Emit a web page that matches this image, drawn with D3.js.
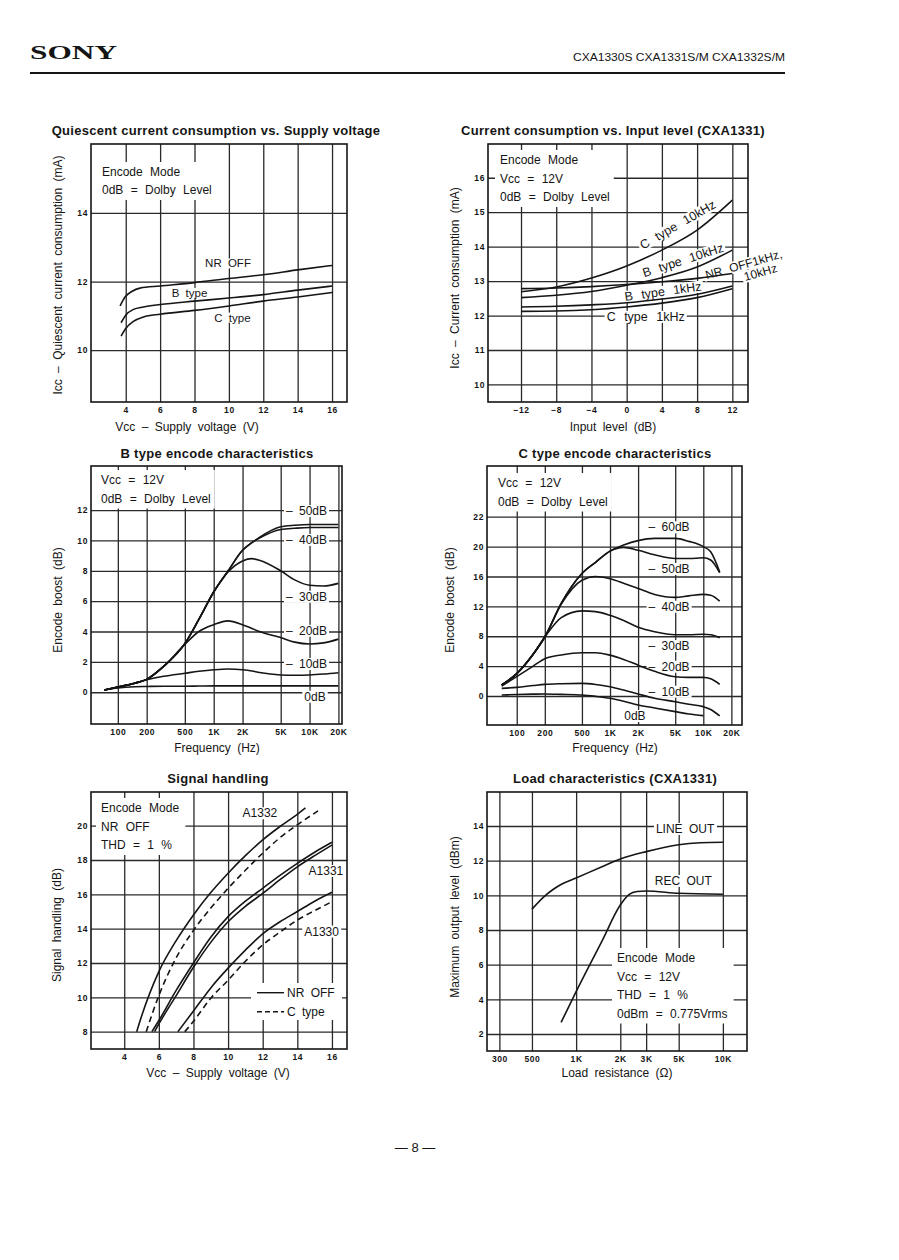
<!DOCTYPE html>
<html>
<head>
<meta charset="utf-8">
<title>CXA1330S CXA1331S/M CXA1332S/M</title>
<script src="https://cdn.jsdelivr.net/npm/d3@7/dist/d3.min.js"></script>
<style>
  body { margin: 0; background: #fff; }
  svg text { font-family: "Liberation Sans", Arial, Helvetica, sans-serif; fill: #151515; }
</style>
</head>
<body>
<script>
// ---------- data ----------

// Quiescent current consumption vs. supply voltage
const voltTicks = [4, 6, 8, 10, 12, 14, 16];
const qcTicks = [10, 12, 14];
const qNrOffV = [3.67, 3.96, 4.35, 4.83, 6, 8, 10, 12, 14, 16];
const qNrOff = [11.29, 11.55, 11.71, 11.81, 11.87, 11.97, 12.09, 12.2, 12.34, 12.47];
const qTypeV = [3.73, 4, 4.45, 5.03, 6, 8, 10, 12, 14, 16];
const qBType = [10.8, 11.02, 11.19, 11.26, 11.33, 11.43, 11.52, 11.62, 11.75, 11.87];
const qCType = [10.41, 10.63, 10.84, 10.97, 11.05, 11.16, 11.29, 11.43, 11.55, 11.68];

// Current consumption vs. input level (CXA1331)
const levelTicks = [-12, -8, -4, 0, 4, 8, 12];
const levelLabels = ["\u221212", "\u22128", "\u22124", "0", "4", "8", "12"];
const icTicks = [10, 11, 12, 13, 14, 15, 16];
const inLevel = [-12, -8, -4, 0, 4, 8, 12];
const iC10k = [12.69, 12.83, 13.09, 13.44, 13.9, 14.48, 15.35];
const iB10k = [12.52, 12.59, 12.7, 12.88, 13.1, 13.41, 13.9];
const iNrOff = [12.78, 12.8, 12.84, 12.9, 12.98, 13.08, 13.22];
const iB1k = [12.25, 12.27, 12.31, 12.37, 12.48, 12.62, 12.86];
const iC1k = [12.12, 12.13, 12.17, 12.25, 12.36, 12.52, 12.78];

// Encode characteristics, frequency axes
const freqTicks = [100, 200, 500, 1000, 2000, 5000, 10000, 20000];
const freqLabels = ["100", "200", "500", "1K", "2K", "5K", "10K", "20K"];

// B type encode characteristics
const bBoostTicks = [0, 2, 4, 6, 8, 10, 12];
const bFreq = [72, 100, 150, 200, 300, 500, 700, 1000, 1400, 2000, 2500, 3000, 5000, 7000, 10000, 14000, 20000];
const b50 = [0.15, 0.35, 0.6, 0.85, 1.7, 3.2, 4.8, 6.6, 7.95, 9.35, 9.85, 10.2, 10.9, 11.0, 11.05, 11.05, 11.05];
const b40 = [0.15, 0.35, 0.6, 0.85, 1.7, 3.2, 4.8, 6.6, 7.95, 9.35, 9.85, 10.15, 10.72, 10.8, 10.85, 10.85, 10.85];
const b30 = [0.15, 0.35, 0.6, 0.85, 1.7, 3.2, 4.8, 6.6, 7.9, 8.65, 8.8, 8.7, 8.0, 7.4, 7.05, 7.0, 7.17];
const b20 = [0.15, 0.35, 0.6, 0.85, 1.7, 3.15, 4.0, 4.45, 4.7, 4.45, 4.2, 4.0, 3.6, 3.3, 3.18, 3.25, 3.5];
const b10 = [0.15, 0.33, 0.6, 0.82, 1.05, 1.25, 1.38, 1.48, 1.53, 1.48, 1.4, 1.3, 1.14, 1.12, 1.14, 1.2, 1.29];
const b0 = [0.15, 0.28, 0.36, 0.38, 0.4, 0.4, 0.41, 0.42, 0.42, 0.42, 0.42, 0.42, 0.42, 0.42, 0.42, 0.42, 0.42];

// C type encode characteristics (the top grid line is printed as "22")
const cBoostTicks = [0, 4, 8, 12, 16, 20, 24];
const cBoostLabels = ["0", "4", "8", "12", "16", "20", "22"];
const cFreq = [69, 100, 150, 200, 300, 500, 700, 1000, 1400, 2000, 3000, 5000, 7000, 10000, 12000, 15000];
const c60 = [1.47, 3.0, 5.6, 7.9, 12.4, 16.4, 17.9, 19.4, 20.2, 20.8, 21.1, 21.1, 20.7, 20.0, 19.3, 16.6];
const c50 = [1.47, 3.0, 5.6, 7.9, 12.4, 16.4, 17.9, 19.4, 19.9, 19.5, 18.9, 18.4, 18.4, 18.5, 18.2, 16.5];
const c40 = [1.47, 3.0, 5.6, 7.9, 12.3, 15.5, 16.0, 15.7, 15.1, 14.4, 13.6, 13.2, 13.4, 13.6, 13.5, 12.7];
const c30 = [1.47, 3.0, 5.6, 7.9, 10.5, 11.4, 11.3, 10.8, 10.1, 9.2, 8.6, 8.2, 8.2, 8.27, 8.2, 7.8];
const c20 = [1.33, 2.6, 4.0, 5.0, 5.5, 5.8, 5.8, 5.47, 4.9, 4.13, 3.3, 2.58, 2.5, 2.49, 2.3, 1.56];
const c10 = [1.02, 1.16, 1.4, 1.56, 1.65, 1.69, 1.55, 1.24, 0.8, 0.27, -0.3, -0.76, -1.1, -1.42, -1.8, -2.67];
const c0 = [0.13, 0.2, 0.25, 0.27, 0.22, 0.13, -0.05, -0.31, -0.7, -1.2, -1.6, -2.09, -2.4, -2.62, null, null];

// Signal handling
const shTicks = [8, 10, 12, 14, 16, 18, 20];
const sh1332NrV = [4.72, 5, 6, 7, 8, 9, 10, 11, 12, 13, 14, 14.47];
const sh1332Nr = [8, 8.9, 11.5, 13.3, 14.8, 16.1, 17.23, 18.25, 19.17, 19.95, 20.66, 21.03];
const sh1332CV = [5.27, 6, 7, 8, 9, 10, 11, 12, 13, 14, 15.2];
const sh1332C = [8, 10.1, 12.3, 13.9, 15.2, 16.35, 17.4, 18.4, 19.3, 20.05, 20.86];
const sh1331NrV = [5.6, 6, 7, 8, 9, 10, 11, 12, 13, 14, 15, 16];
const sh1331Nr = [8, 8.65, 10.4, 12.0, 13.5, 14.7, 15.6, 16.35, 17.1, 17.8, 18.45, 19.03];
const sh1331CV = [5.75, 6, 7, 8, 9, 10, 11, 12, 13, 14, 15, 16];
const sh1331C = [8, 8.45, 10.1, 11.75, 13.2, 14.4, 15.3, 16.05, 16.85, 17.6, 18.25, 18.87];
const sh1330NrV = [7.1, 8, 9, 10, 11, 12, 13, 14, 15, 16];
const sh1330Nr = [8, 9.2, 10.55, 11.7, 12.75, 13.7, 14.4, 15.0, 15.6, 16.12];
const sh1330CV = [7.5, 8, 9, 10, 11, 12, 13, 14, 15, 16];
const sh1330C = [8, 8.6, 9.95, 11.0, 12.1, 13.05, 13.8, 14.5, 15.05, 15.57];

// Load characteristics (CXA1331)
const loadTicks = [300, 500, 1000, 2000, 3000, 5000, 10000];
const loadLabels = ["300", "500", "1K", "2K", "3K", "5K", "10K"];
const outTicks = [2, 4, 6, 8, 10, 12, 14];
const lineR = [500, 600, 700, 800, 1000, 1500, 2000, 3000, 5000, 7000, 10000];
const lineOut = [9.2, 9.9, 10.35, 10.65, 11.0, 11.65, 12.1, 12.52, 12.92, 13.03, 13.06];
const recR = [790, 1000, 1500, 2000, 2300, 2600, 3000, 5000, 10000];
const recOut = [2.67, 4.44, 7.36, 9.44, 10.05, 10.22, 10.25, 10.12, 10.06];

// ---------- drawing ----------
const svg = d3.select("body").append("svg")
  .attr("width", 899).attr("height", 1260)
  .style("background", "#fff");

const INK = "#151515";

// a framed grid with tick labels and titles; returns scales and layers
function panel(p) {
  const x = (p.log ? d3.scaleLog() : d3.scaleLinear()).domain(p.xDomain).range([p.x0, p.x1]);
  const y = d3.scaleLinear().domain(p.yDomain).range([p.y1, p.y0]);
  const g = svg.append("g");
  const L = {
    grid: g.append("g"), frame: g.append("g"), box: g.append("g"),
    curve: g.append("g"), text: g.append("g")
  };
  const xl = p.xLabels || p.xTicks.map(String);
  const yl = p.yLabels || p.yTicks.map(String);

  L.grid.append("g").attr("transform", `translate(0,${p.y1})`)
    .call(d3.axisBottom(x).tickValues(p.xTicks)
      .tickFormat(d => xl[p.xTicks.indexOf(d)])
      .tickSize(-(p.y1 - p.y0)).tickPadding(5));
  L.grid.append("g").attr("transform", `translate(${p.x0},0)`)
    .call(d3.axisLeft(y).tickValues(p.yTicks)
      .tickFormat(d => yl[p.yTicks.indexOf(d)])
      .tickSize(-(p.x1 - p.x0)).tickPadding(3));
  L.grid.selectAll(".domain").remove();
  L.grid.selectAll(".tick line").attr("stroke", "#2a2a2a").attr("stroke-width", 1.3);
  L.grid.selectAll(".tick text")
    .attr("font-size", 8.5).attr("font-weight", "bold")
    .attr("letter-spacing", 0.6).attr("fill", INK)
    .style("font-family", '"Liberation Sans", Arial, sans-serif');

  L.frame.append("rect")
    .attr("x", p.x0).attr("y", p.y0)
    .attr("width", p.x1 - p.x0).attr("height", p.y1 - p.y0)
    .attr("fill", "none").attr("stroke", INK).attr("stroke-width", 1.6);

  L.text.append("text").attr("x", p.titleX).attr("y", p.titleY)
    .attr("text-anchor", "middle").attr("dominant-baseline", "central")
    .attr("font-size", 13).attr("letter-spacing", 0.3)
    .attr("font-weight", "bold").text(p.title);
  L.text.append("text").attr("x", p.xTitleX).attr("y", p.xTitleY)
    .attr("text-anchor", "middle").attr("dominant-baseline", "central")
    .attr("font-size", 12).attr("word-spacing", 3).text(p.xTitle);
  L.text.append("text")
    .attr("transform", `translate(${p.yTitleX},${p.yTitleY}) rotate(-90)`)
    .attr("text-anchor", "middle").attr("dominant-baseline", "central")
    .attr("font-size", 12).attr("word-spacing", 3).text(p.yTitle);

  return { x, y, L };
}

function curve(P, xs, ys, dash) {
  const pts = xs.map((v, i) => [v, ys[i]]);
  const line = d3.line()
    .defined(d => d[1] != null)
    .x(d => P.x(d[0])).y(d => P.y(d[1]))
    .curve(d3.curveMonotoneX);
  P.L.curve.append("path").attr("d", line(pts))
    .attr("fill", "none").attr("stroke", INK).attr("stroke-width", 1.6)
    .attr("stroke-dasharray", dash ? "6,4" : null);
}

// text on a white patch that breaks the grid lines under it
function label(P, str, cx, cy, rot, size, ws) {
  const t = P.L.text.append("text").attr("x", cx).attr("y", cy)
    .attr("text-anchor", "middle").attr("dominant-baseline", "central")
    .attr("font-size", size || 11.5).attr("word-spacing", ws || 3).text(str);
  const b = t.node().getBBox();
  const r = P.L.box.append("rect")
    .attr("x", b.x - 2).attr("y", b.y + 1).attr("width", b.width + 4).attr("height", b.height - 2)
    .attr("fill", "#fff");
  if (rot) {
    t.attr("transform", `rotate(${rot},${cx},${cy})`);
    r.attr("transform", `rotate(${rot},${cx},${cy})`);
  }
}

// block of left-aligned condition notes
function note(P, lines, x, y, step, padR) {
  const ts = lines.map((s, i) => P.L.text.append("text")
    .attr("x", x).attr("y", y + i * step).attr("dominant-baseline", "central")
    .attr("font-size", 12).attr("word-spacing", 4).text(s));
  let x1 = x, y0 = Infinity, y1 = -Infinity;
  ts.forEach(t => {
    const b = t.node().getBBox();
    x1 = Math.max(x1, b.x + b.width); y0 = Math.min(y0, b.y); y1 = Math.max(y1, b.y + b.height);
  });
  P.L.box.append("rect").attr("x", x - 5).attr("y", y0 - 3)
    .attr("width", x1 - x + 5 + (padR || 4)).attr("height", y1 - y0 + 6)
    .attr("fill", "#fff");
}

// ---------- page header and footer ----------
svg.append("text").attr("x", 30).attr("y", 59)
  .style("font-family", '"Liberation Serif", "DejaVu Serif", serif')
  .attr("font-weight", "bold").attr("font-size", 19)
  .attr("textLength", 87).attr("lengthAdjust", "spacingAndGlyphs").text("SONY");
svg.append("text").attr("x", 785).attr("y", 61).attr("text-anchor", "end")
  .attr("font-size", 11.5).attr("textLength", 212).attr("lengthAdjust", "spacingAndGlyphs")
  .text("CXA1330S CXA1331S/M CXA1332S/M");
svg.append("line").attr("x1", 30).attr("x2", 785).attr("y1", 73).attr("y2", 73)
  .attr("stroke", INK).attr("stroke-width", 2);
svg.append("text").attr("x", 415).attr("y", 1147).attr("text-anchor", "middle")
  .attr("dominant-baseline", "central").attr("font-size", 13).text("\u2014 8 \u2014");

// ---------- 1: quiescent current ----------
const q = panel({
  x0: 91, x1: 347, y0: 144, y1: 402, xDomain: [1.98, 16.87], yDomain: [8.49, 16.01],
  xTicks: voltTicks, yTicks: qcTicks,
  title: "Quiescent current consumption vs. Supply voltage", titleX: 216, titleY: 130,
  xTitle: "Vcc \u2013 Supply voltage (V)", xTitleX: 187, xTitleY: 427,
  yTitle: "Icc \u2013 Quiescent current consumption (mA)", yTitleX: 58, yTitleY: 275
});
note(q, ["Encode Mode", "0dB = Dolby Level"], 102, 172, 18);
curve(q, qNrOffV, qNrOff);
curve(q, qTypeV, qBType);
curve(q, qTypeV, qCType);
label(q, "NR OFF", q.x(9.95), q.y(12.53));
label(q, "B type", q.x(7.71), q.y(11.67));
label(q, "C type", q.x(10.21), q.y(10.95));

// ---------- 2: current vs input level ----------
const ic = panel({
  x0: 488, x1: 748, y0: 144, y1: 402, xDomain: [-15.75, 13.78], yDomain: [9.49, 16.98],
  xTicks: levelTicks, xLabels: levelLabels, yTicks: icTicks,
  title: "Current consumption vs. Input level (CXA1331)", titleX: 613, titleY: 130,
  xTitle: "Input level (dB)", xTitleX: 613, xTitleY: 427,
  yTitle: "Icc \u2013 Current consumption (mA)", yTitleX: 455, yTitleY: 278
});
note(ic, ["Encode Mode", "Vcc = 12V", "0dB = Dolby Level"], 500, 160, 18.5);
[iC10k, iB10k, iNrOff, iB1k, iC1k].forEach(s => curve(ic, inLevel, s));
label(ic, "C type 10kHz", ic.x(5.8), ic.y(14.63), -30, 12.5, 5);
label(ic, "B type 10kHz", ic.x(6.4), ic.y(13.6), -18, 12.5, 5);
label(ic, "NR OFF1kHz,", ic.x(13.3), ic.y(13.48), -16, 12, 4);
label(ic, "10kHz", ic.x(15.2), ic.y(13.25), -16, 12);
label(ic, "B type 1kHz", ic.x(4.13), ic.y(12.69), -8, 12.5, 5);
label(ic, "C type 1kHz", ic.x(2.16), ic.y(11.96), 0, 12.5, 5);

// ---------- 3: B type encode ----------
const eb = panel({
  x0: 91, x1: 342, y0: 466, y1: 724, log: true, xDomain: [52.5, 21800], yDomain: [-2.09, 14.9],
  xTicks: freqTicks, xLabels: freqLabels, yTicks: bBoostTicks,
  title: "B type encode characteristics", titleX: 217, titleY: 453,
  xTitle: "Frequency (Hz)", xTitleX: 217, xTitleY: 748,
  yTitle: "Encode boost (dB)", yTitleX: 58, yTitleY: 600
});
note(eb, ["Vcc = 12V", "0dB = Dolby Level"], 101, 480, 18.5);
[b50, b40, b30, b20, b10, b0].forEach(s => curve(eb, bFreq, s));
label(eb, "\u2013 50dB", eb.x(9300), eb.y(11.93), 0, 12);
label(eb, "\u2013 40dB", eb.x(9300), eb.y(10.03), 0, 12);
label(eb, "\u2013 30dB", eb.x(9300), eb.y(6.29), 0, 12);
label(eb, "\u2013 20dB", eb.x(9300), eb.y(4.05), 0, 12);
label(eb, "\u2013 10dB", eb.x(9300), eb.y(1.86), 0, 12);
label(eb, "0dB", eb.x(11400), eb.y(-0.29), 0, 12);

// ---------- 4: C type encode ----------
const ec = panel({
  x0: 487, x1: 742, y0: 466, y1: 725, log: true, xDomain: [48, 26000], yDomain: [-3.88, 30.79],
  xTicks: freqTicks, xLabels: freqLabels, yTicks: cBoostTicks, yLabels: cBoostLabels,
  title: "C type encode characteristics", titleX: 615, titleY: 453,
  xTitle: "Frequency (Hz)", xTitleX: 615, xTitleY: 748,
  yTitle: "Encode boost (dB)", yTitleX: 450, yTitleY: 600
});
note(ec, ["Vcc = 12V", "0dB = Dolby Level"], 498, 483, 18.5);
[c60, c50, c40, c30, c20, c10, c0].forEach(s => curve(ec, cFreq, s));
label(ec, "\u2013 60dB", ec.x(4300), ec.y(22.58), 0, 12);
label(ec, "\u2013 50dB", ec.x(4300), ec.y(17.0), 0, 12);
label(ec, "\u2013 40dB", ec.x(4300), ec.y(11.95), 0, 12);
label(ec, "\u2013 30dB", ec.x(4300), ec.y(6.69), 0, 12);
label(ec, "\u2013 20dB", ec.x(4300), ec.y(3.92), 0, 12);
label(ec, "\u2013 10dB", ec.x(4300), ec.y(0.58), 0, 12);
label(ec, "0dB", ec.x(1850), ec.y(-2.68), 0, 12);

// ---------- 5: signal handling ----------
const sh = panel({
  x0: 91, x1: 347, y0: 792, y1: 1049, xDomain: [2.08, 16.87], yDomain: [6.99, 21.96],
  xTicks: voltTicks, yTicks: shTicks,
  title: "Signal handling", titleX: 218, titleY: 778,
  xTitle: "Vcc \u2013 Supply voltage (V)", xTitleX: 218, xTitleY: 1073,
  yTitle: "Signal handling (dB)", yTitleX: 57, yTitleY: 925
});
note(sh, ["Encode Mode", "NR OFF", "THD = 1 %"], 101, 808, 18.5, 6);
curve(sh, sh1332NrV, sh1332Nr);
curve(sh, sh1332CV, sh1332C, true);
curve(sh, sh1331NrV, sh1331Nr);
curve(sh, sh1331CV, sh1331C);
curve(sh, sh1330NrV, sh1330Nr);
curve(sh, sh1330CV, sh1330C, true);
label(sh, "A1332", sh.x(11.84), sh.y(20.72), 0, 12);
label(sh, "A1331", sh.x(15.65), sh.y(17.36), 0, 12);
label(sh, "A1330", sh.x(15.4), sh.y(13.83), 0, 12);
// legend
sh.L.box.append("rect").attr("x", 251).attr("y", 983).attr("width", 91).attr("height", 37).attr("fill", "#fff");
[["NR OFF", null, 992.7], ["C type", "5,3", 1011.7]].forEach(([t, dash, ly]) => {
  sh.L.curve.append("line").attr("x1", 257).attr("x2", 284).attr("y1", ly).attr("y2", ly)
    .attr("stroke", INK).attr("stroke-width", 1.4).attr("stroke-dasharray", dash);
  sh.L.text.append("text").attr("x", 287).attr("y", ly).attr("dominant-baseline", "central")
    .attr("font-size", 12).attr("word-spacing", 3).text(t);
});

// ---------- 6: load characteristics ----------
const ld = panel({
  x0: 487, x1: 747, y0: 792, y1: 1051, log: true, xDomain: [247, 14600], yDomain: [1.02, 15.96],
  xTicks: loadTicks, xLabels: loadLabels, yTicks: outTicks,
  title: "Load characteristics (CXA1331)", titleX: 615, titleY: 778,
  xTitle: "Load resistance (\u03a9)", xTitleX: 617, xTitleY: 1073,
  yTitle: "Maximum output level (dBm)", yTitleX: 455, yTitleY: 917
});
note(ld, ["Encode Mode", "Vcc = 12V", "THD = 1 %", "0dBm = 0.775Vrms"], 617, 958, 18.5, 6);
curve(ld, lineR, lineOut);
curve(ld, recR, recOut);
label(ld, "LINE OUT", ld.x(5530), ld.y(13.83), 0, 12);
label(ld, "REC OUT", ld.x(5380), ld.y(10.83), 0, 12);
</script>
</body>
</html>
